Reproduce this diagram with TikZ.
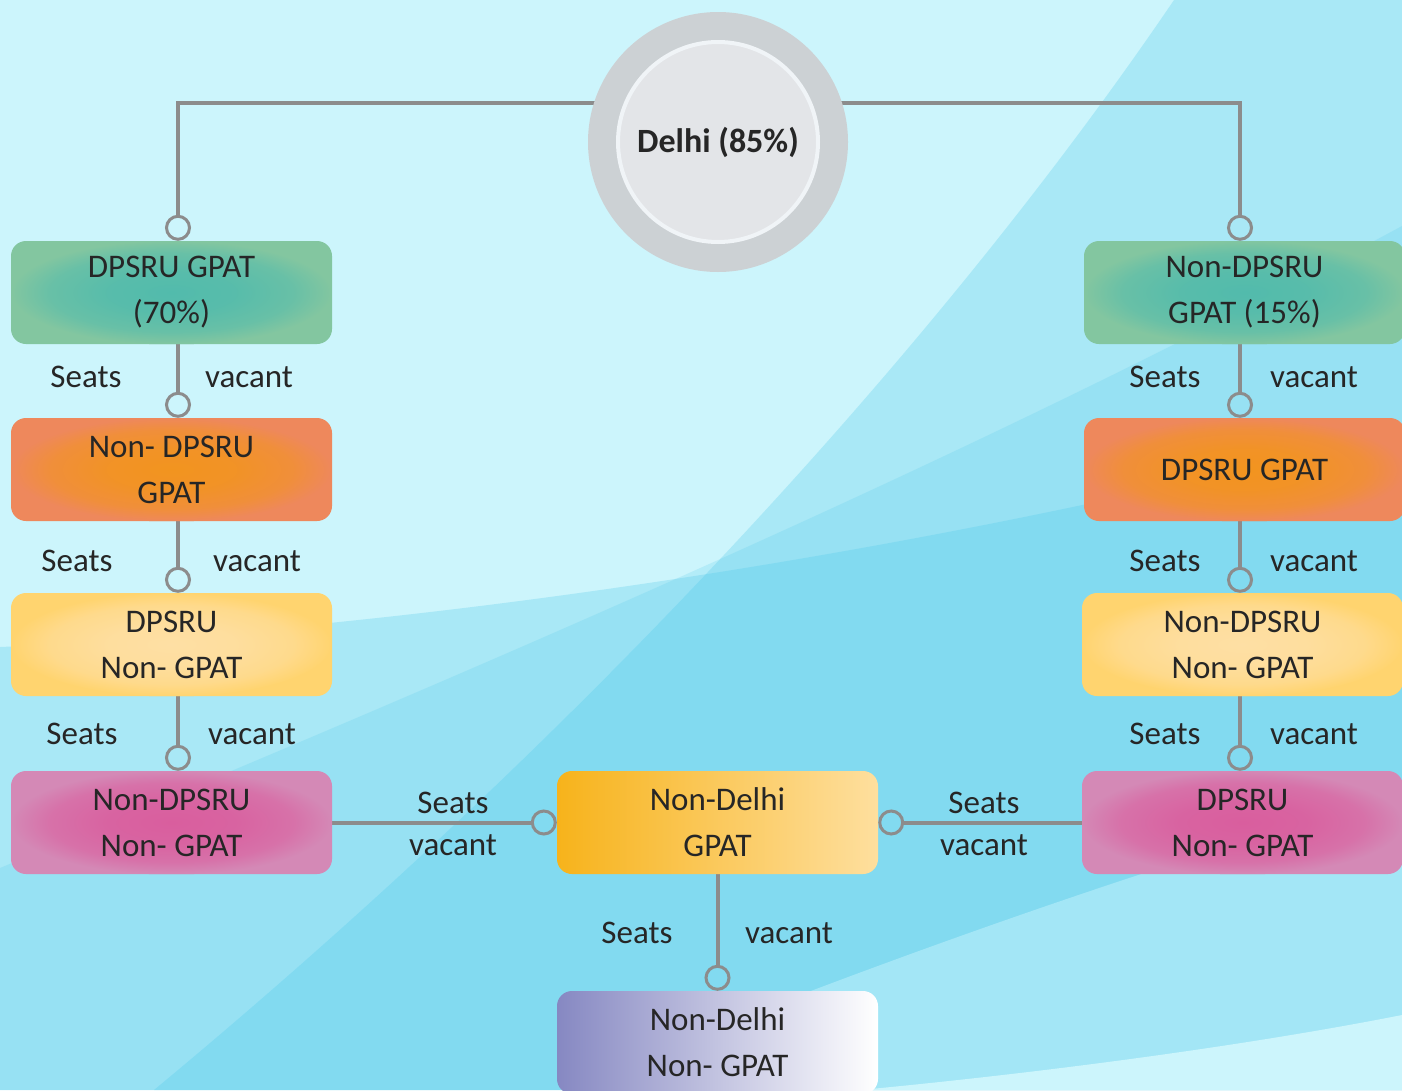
\documentclass[tikz,border=0pt]{standalone}
\usepackage{fontspec}
\setmainfont{Carlito}
\usetikzlibrary{arrows.meta}
\definecolor{bgbase}{HTML}{CCF5FC}
\definecolor{overblue}{HTML}{4FC8EA}
\definecolor{bglight}{HTML}{A3E6F6}
\definecolor{txt}{HTML}{262626}
\definecolor{linegray}{HTML}{8C8C8C}
\definecolor{ringgray}{HTML}{CCD1D4}
\definecolor{innergray}{HTML}{E3E5E8}
\definecolor{innerrim}{HTML}{F0F4F7}
\definecolor{greenout}{HTML}{83C6A0}
\definecolor{greenin}{HTML}{52BBAC}
\definecolor{orangeout}{HTML}{EE885C}
\definecolor{orangein}{HTML}{F2941F}
\definecolor{yellowout}{HTML}{FFD46F}
\definecolor{yellowin}{HTML}{FEDFA4}
\definecolor{pinkout}{HTML}{D489B6}
\definecolor{pinkin}{HTML}{D95E9E}
\definecolor{ndleft}{HTML}{F7B31B}
\definecolor{ndright}{HTML}{FEDF9E}
\definecolor{ngleft}{HTML}{8688C2}
\definecolor{ngright}{HTML}{FFFFFF}
\colorlet{glowin}{white}
\colorlet{glowout}{white}
\pgfdeclareradialshading[glowin,glowout]{glowsh}{\pgfpoint{0bp}{0bp}}{%
  color(0bp)=(glowin); color(10bp)=(glowin!88!glowout); color(19bp)=(glowin!55!glowout);
  color(25bp)=(glowout); color(50bp)=(glowout)}
\pgfdeclarelayer{bg}
\pgfdeclarelayer{lines}
\pgfsetlayers{bg,lines,main}
\begin{document}
\begin{tikzpicture}[x=1pt,y=-1pt,
  box/.style={rectangle, rounded corners=15pt, minimum width=321pt, minimum height=103pt,
    inner sep=0pt, align=center, text=txt, font=\fontsize{33}{46}\selectfont},
  glowbox/.style 2 args={box, fill=#2, path picture={
    \colorlet{glowin}{#1}\colorlet{glowout}{#2}%
    \shade[shading=glowsh] (path picture bounding box.center) ellipse [x radius=160pt, y radius=52pt];}},
  linbox/.style 2 args={box, left color=#1, right color=#2},
  lbl/.style={text=txt, font=\fontsize{33}{40}\selectfont, inner sep=0pt},
  conn/.style={draw=linegray, line width=4pt, -{Circle[open,length=26pt,width=26pt,line width=3pt]}}]
\useasboundingbox (0,0) rectangle (1402,1090);

% background
\begin{pgfonlayer}{bg}
\fill[bgbase] (0,0) rectangle (1402,1090);
\fill[overblue, opacity=.28] (1174,0) .. controls (950,330) and (600,720) .. (154,1090) -- (1402,1090) -- (1402,0) -- cycle;
\fill[overblue, opacity=.28] (0,647) .. controls (400,630) and (900,560) .. (1402,430) -- (1402,1090) -- (0,1090) -- cycle;
\fill[overblue, opacity=.2] (0,868) .. controls (450,680) and (950,470) .. (1402,226) -- (1402,1090) -- (0,1090) -- cycle;
\fill[bglight] (1402,795) .. controls (1200,850) and (900,950) .. (560,1090) -- (1402,1090) -- cycle;
\fill[bgbase] (860,1090) .. controls (1050,1072) and (1250,1045) .. (1402,1015) -- (1402,1090) -- cycle;
\end{pgfonlayer}

% central circle
\node[circle, minimum size=260pt, inner sep=0pt, fill=ringgray] (delhiring) at (718,142) {};
\node[circle, minimum size=200pt, inner sep=0pt, fill=innergray, draw=innerrim, line width=4pt,
  text=txt, font=\bfseries\fontsize{34}{40}\selectfont] (delhi) at (718,142) {Delhi (85\%)};

% left column
\node[glowbox={greenin}{greenout}]   (L1) at (171.5,292.5) {DPSRU GPAT\\(70\%)};
\node[glowbox={orangein}{orangeout}] (L2) at (171.5,469.5) {Non- DPSRU\\GPAT};
\node[glowbox={yellowin}{yellowout}] (L3) at (171.5,644.5) {DPSRU\\Non- GPAT};
\node[glowbox={pinkin}{pinkout}]     (L4) at (171.5,822.5) {Non-DPSRU\\Non- GPAT};

% right column
\node[glowbox={greenin}{greenout}]   (R1) at (1244.5,292.5) {Non-DPSRU\\GPAT (15\%)};
\node[glowbox={orangein}{orangeout}] (R2) at (1244.5,469.5) {DPSRU GPAT};
\node[glowbox={yellowin}{yellowout}] (R3) at (1242.5,644.5) {Non-DPSRU\\Non- GPAT};
\node[glowbox={pinkin}{pinkout}]     (R4) at (1242.5,822.5) {DPSRU\\Non- GPAT};

% middle
\node[linbox={ndleft}{ndright}] (M1) at (717.5,822.5) {Non-Delhi\\GPAT};
\node[linbox={ngleft}{ngright}] (M2) at (717.5,1042.5) {Non-Delhi\\Non- GPAT};

% connectors
\begin{pgfonlayer}{lines}
\draw[conn] ([yshift=39pt]delhiring.center) -| ([xshift=6.5pt]L1.north);
\draw[conn] ([yshift=39pt]delhiring.center) -| ([xshift=-4.5pt]R1.north);
\draw[conn] ([xshift=6.5pt]L1.south) -- ([xshift=6.5pt]L2.north);
\draw[conn] ([xshift=6.5pt]L2.south) -- ([xshift=6.5pt]L3.north);
\draw[conn] ([xshift=6.5pt]L3.south) -- ([xshift=6.5pt]L4.north);
\draw[conn] ([xshift=-4.5pt]R1.south) -- ([xshift=-4.5pt]R2.north);
\draw[conn] ([xshift=-4.5pt]R2.south) -- ([xshift=-2.5pt]R3.north);
\draw[conn] ([xshift=-2.5pt]R3.south) -- ([xshift=-2.5pt]R4.north);
\draw[conn] (L4.east) -- (M1.west);
\draw[conn] (R4.west) -- (M1.east);
\draw[conn] (M1.south) -- (M2.north);
\end{pgfonlayer}

% labels
\node[lbl] (ls1) at (86,377) {Seats};
\node[lbl] (lv1) at (249,377) {vacant};
\node[lbl] (ls2) at (77,561) {Seats};
\node[lbl] (lv2) at (257,561) {vacant};
\node[lbl] (ls3) at (82,734) {Seats};
\node[lbl] (lv3) at (252,734) {vacant};
\node[lbl] (rs1) at (1165,377) {Seats};
\node[lbl] (rv1) at (1314,377) {vacant};
\node[lbl] (rs2) at (1165,561) {Seats};
\node[lbl] (rv2) at (1314,561) {vacant};
\node[lbl] (rs3) at (1165,734) {Seats};
\node[lbl] (rv3) at (1314,734) {vacant};
\node[lbl] (hs1) at (453,803) {Seats};
\node[lbl] (hv1) at (453,845) {vacant};
\node[lbl] (hs2) at (984,803) {Seats};
\node[lbl] (hv2) at (984,845) {vacant};
\node[lbl] (bs) at (637,933) {Seats};
\node[lbl] (bv) at (789,933) {vacant};
\end{tikzpicture}
\end{document}
